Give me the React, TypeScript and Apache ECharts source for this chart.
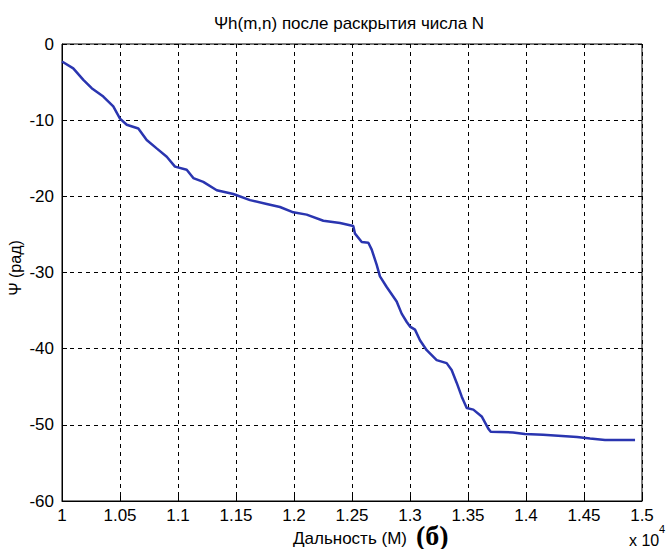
import React, { useEffect, useRef } from "react";
import * as echarts from "echarts";

// Range in units of 10^4 m
const rangeX: number[] = [
  1.0, 1.0097, 1.0184, 1.0256, 1.0356, 1.0442, 1.05, 1.0558, 1.0658, 1.073,
  1.0816, 1.0903, 1.0974, 1.1075, 1.1132, 1.1218, 1.1334, 1.1477, 1.1621,
  1.1765, 1.1879, 1.1994, 1.2109, 1.2253, 1.2397, 1.2511, 1.2526, 1.2584,
  1.2641, 1.267, 1.2713, 1.2741, 1.2799, 1.2885, 1.2928, 1.2972, 1.3, 1.3043,
  1.3086, 1.3144, 1.323, 1.3316, 1.3359, 1.3403, 1.3446, 1.3489, 1.3546,
  1.3618, 1.3675, 1.3696, 1.3888, 1.3991, 1.4147, 1.444, 1.4552, 1.4681, 1.494,
];
// Psi (rad)
const psiValues: number[] = [
  -2.3, -3.2, -4.7, -5.8, -6.9, -8.2, -9.8, -10.6, -11.1, -12.6,
  -13.7, -14.8, -16.1, -16.5, -17.6, -18.1, -19.2, -19.7, -20.5,
  -21.0, -21.4, -22.1, -22.4, -23.2, -23.5, -23.9, -24.9, -26.0,
  -26.1, -27.0, -29.0, -30.5, -31.9, -33.8, -35.4, -36.5, -37.1, -37.5,
  -38.9, -40.2, -41.5, -41.9, -42.8, -44.5, -46.3, -47.8, -48.0,
  -48.9, -50.5, -50.9, -51.0, -51.2, -51.3, -51.6, -51.8, -52.0, -52.0,
];

const titleText = "Ψh(m,n) после раскрытия числа N";
const yAxisTitle = "Ψ (рад)";
const xAxisTitle = "Дальность (М)";
const panelLabel = "(б)";
const xScaleText = "x 10";
const xScaleExp = "4";

const FONT = "'Liberation Sans', Arial, sans-serif";

export default function App() {
  const ref = useRef<HTMLDivElement>(null);
  useEffect(() => {
    if (!ref.current) return;
    const chart = echarts.init(ref.current, null, { renderer: "svg" });
    const gridStyle = { show: true, lineStyle: { color: "#000", type: [4, 4] as any, width: 1 } };
    const tick = { show: true, inside: true, length: 5, lineStyle: { color: "#000" } };
    chart.setOption({
      animation: false,
      backgroundColor: "#fff",
      grid: { left: 62, right: 26, top: 44, bottom: 48, show: true, borderColor: "#000", borderWidth: 1, backgroundColor: "transparent" },
      xAxis: [
        {
          type: "value", min: 1, max: 1.5, interval: 0.05,
          axisLine: { show: true, onZero: false, lineStyle: { color: "#000" } },
          axisTick: tick,
          splitLine: gridStyle,
          axisLabel: {
            color: "#000", fontFamily: FONT, fontSize: 17, margin: 6,
            formatter: (v: number) => String(+v.toFixed(2)),
          },
        },
      ],
      yAxis: [
        {
          type: "value", min: -60, max: 0, interval: 10,
          axisLine: { show: true, onZero: false, lineStyle: { color: "#000" } },
          axisTick: tick,
          splitLine: gridStyle,
          axisLabel: { color: "#000", fontFamily: FONT, fontSize: 17, margin: 8 },
        },
      ],
      series: [
        {
          type: "line",
          data: rangeX.map((x, i) => [x, psiValues[i]]),
          showSymbol: false,
          lineStyle: { color: "#2a35b0", width: 2.5 },
          smooth: false,
        },
      ],
      graphic: [
        { type: "text", x: 349, y: 23, style: { text: titleText, font: `17px ${FONT}`, fill: "#000", align: "center", verticalAlign: "middle" } },
        { type: "text", x: 15, y: 268, rotation: Math.PI / 2, style: { text: yAxisTitle, font: `16px ${FONT}`, fill: "#000", align: "center", verticalAlign: "middle" } },
        { type: "text", x: 350, y: 538, style: { text: xAxisTitle, font: `17px ${FONT}`, fill: "#000", align: "center", verticalAlign: "middle" } },
        { type: "text", x: 416, y: 535, style: { text: panelLabel, font: `bold 28px 'Liberation Serif', 'Times New Roman', serif`, fill: "#000", align: "left", verticalAlign: "middle" } },
        { type: "text", x: 629, y: 540, style: { text: xScaleText, font: `16px ${FONT}`, fill: "#000", align: "left", verticalAlign: "middle" } },
        { type: "text", x: 659, y: 529, style: { text: xScaleExp, font: `11px ${FONT}`, fill: "#000", align: "left", verticalAlign: "middle" } },
      ],
    });
    return () => chart.dispose();
  }, []);
  return (
    <div style={{ position: "fixed", left: 0, top: 0, width: 668, height: 549, background: "#fff" }}>
      <div ref={ref} style={{ width: 668, height: 549 }} />
    </div>
  );
}
